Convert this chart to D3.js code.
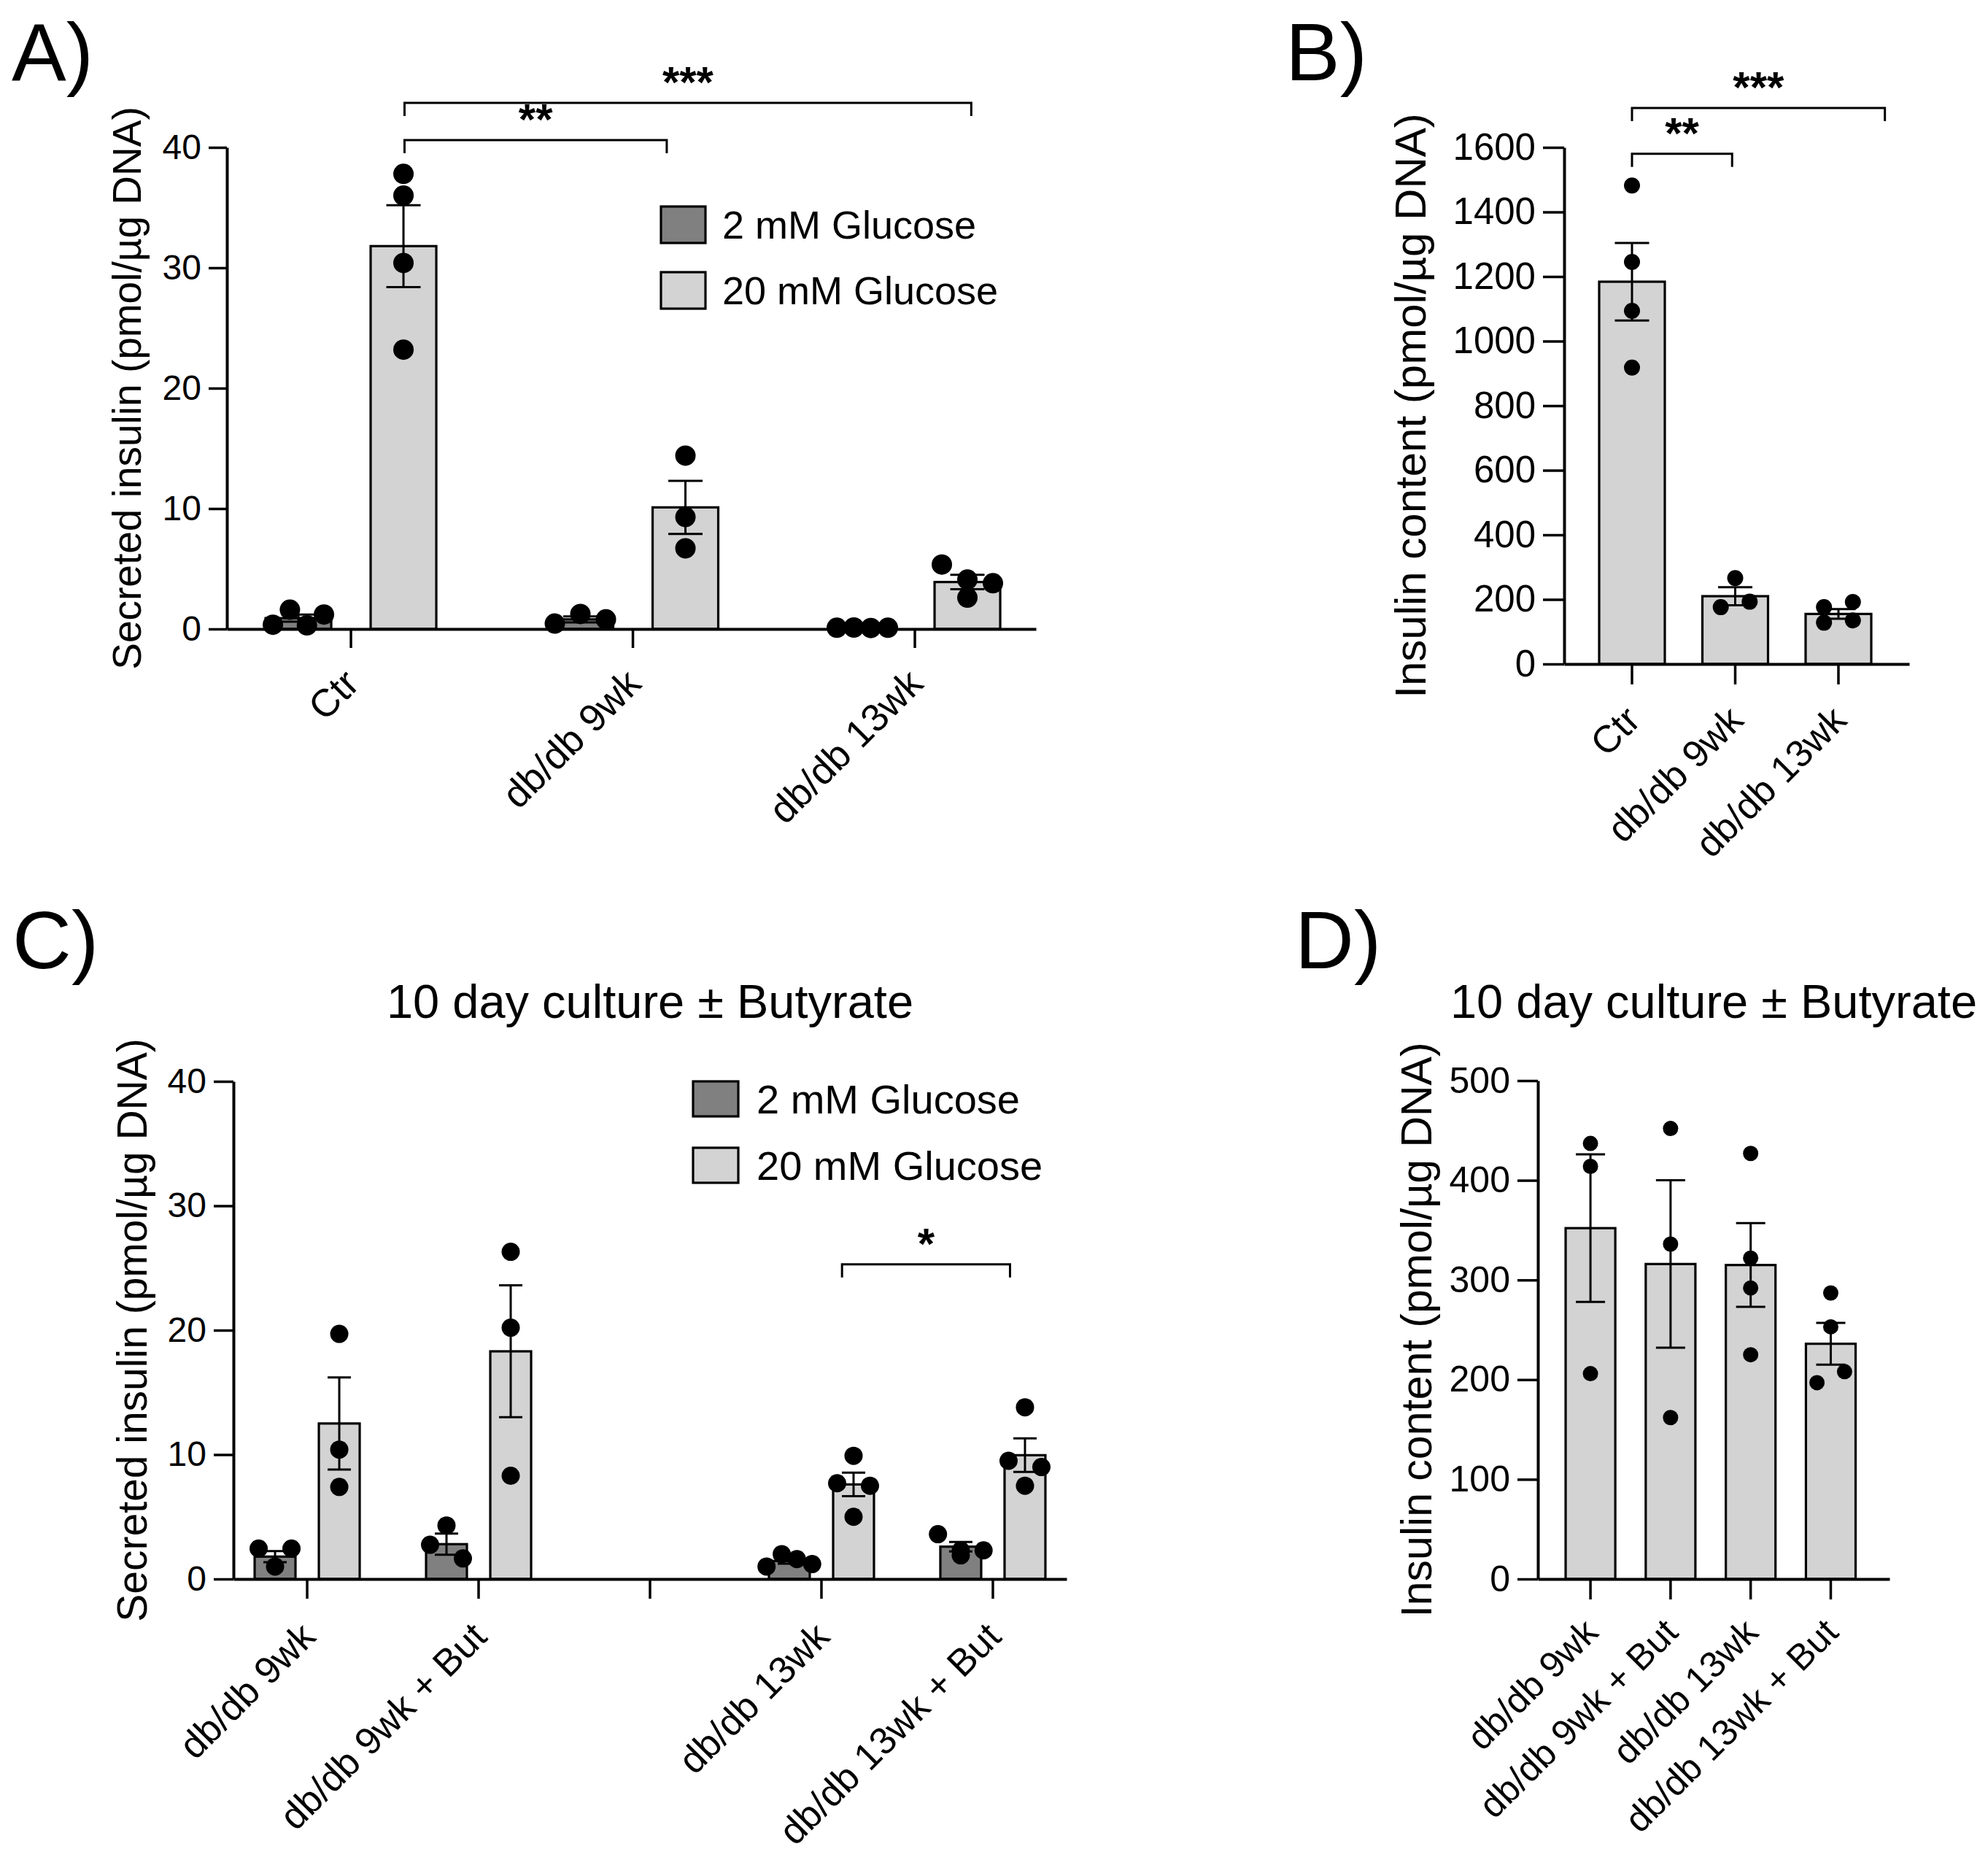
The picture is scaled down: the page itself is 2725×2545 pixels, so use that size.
<!DOCTYPE html>
<html><head><meta charset="utf-8">
<script src="https://cdn.jsdelivr.net/npm/d3@7"></script>
<style>
body{margin:0;background:#fff}
svg{display:block}
text{font-family:"Liberation Sans", Arial, Helvetica, sans-serif; fill:#000}
</style>
</head><body>
<svg id="fig" width="2725" height="2545"></svg>
<script>
// ---------------- DATA ----------------
const seriesNames = ["2 mM Glucose", "20 mM Glucose"];
const singleSeries = ["Insulin content"];

// Panel A: secreted insulin (pmol/µg DNA)
const groupsA = ["Ctr", "db/db 9wk", "db/db 13wk"];
const meanA_2mM = [0.9, 0.8, 0.1];
const semA_2mM = [0.3, 0.25, 0.03];
const ptsA_2mM = [[0.35, 1.6, 0.3, 1.2], [0.45, 1.25, 0.8], [0.1, 0.12, 0.08, 0.1]];
const meanA_20mM = [31.8, 10.1, 3.9];
const semA_20mM = [3.4, 2.2, 0.6];
const ptsA_20mM = [[37.8, 36.0, 30.4, 23.2], [14.4, 9.3, 6.7], [5.35, 2.6, 4.1, 3.8]];
const ticksA = [0, 10, 20, 30, 40];
const sigA = [
  {from: 0.19, to: 1.12, level: 40.6, label: "**"},
  {from: 0.19, to: 2.20, level: 43.7, label: "***"}
];

// Panel B: insulin content (pmol/µg DNA)
const groupsB = ["Ctr", "db/db 9wk", "db/db 13wk"];
const meanB = [1184, 210, 155];
const semB = [120, 28, 15];
const ptsB = [[1482, 1245, 1094, 918], [266, 176, 193], [128, 176, 192, 135]];
const ticksB = [0, 200, 400, 600, 800, 1000, 1200, 1400, 1600];
const sigB = [
  {from: 0, to: 0.97, level: 1580, label: "**"},
  {from: 0, to: 2.45, level: 1722, label: "***"}
];

// Panel C: secreted insulin after 10 day culture ± butyrate
const groupsC = ["db/db 9wk", "db/db 9wk + But", "", "db/db 13wk", "db/db 13wk + But"];
const meanC_2mM = [1.8, 2.8, null, 1.45, 2.6];
const semC_2mM = [0.45, 0.85, null, 0.22, 0.38];
const ptsC_2mM = [[1.0, 2.45, 2.45], [4.3, 2.75, 1.65], null, [1.0, 2.0, 1.6, 1.2], [3.6, 1.9, 2.3, 2.3]];
const meanC_20mM = [12.5, 18.3, null, 7.6, 9.95];
const semC_20mM = [3.7, 5.3, null, 0.95, 1.35];
const ptsC_20mM = [[19.7, 10.4, 7.4], [26.3, 20.2, 8.3], null, [9.9, 7.7, 7.5, 5.0], [13.8, 9.5, 9.0, 7.5]];
const ticksC = [0, 10, 20, 30, 40];
const sigC = [{from: 3.12, to: 4.10, level: 25.3, label: "*"}];

// Panel D: insulin content after 10 day culture ± butyrate
const groupsD = ["db/db 9wk", "db/db 9wk + But", "db/db 13wk", "db/db 13wk + But"];
const meanD = [352, 316, 315, 236];
const semD = [74, 84, 42, 21];
const ptsD = [[437, 414, 206], [452, 336, 162], [427, 322, 292, 225], [287, 253, 197, 208]];
const ticksD = [0, 100, 200, 300, 400, 500];

const titleCD = "10 day culture \u00B1 Butyrate";
const ylabSecreted = "Secreted insulin (pmol/\u00B5g DNA)";
const ylabContent = "Insulin content (pmol/\u00B5g DNA)";

// ---------------- DRAWING ----------------
const svg = d3.select("#fig");
svg.append("rect").attr("width", 2725).attr("height", 2545).attr("fill", "#fff");
const fills = ["#808080", "#d3d3d3"];
const FONT = "Liberation Sans, Arial, Helvetica, sans-serif";

function rowOffsets(vals, y, r) {
  const d = 2 * r;
  const idx = vals.map((v, i) => ({i, py: y(v)})).sort((a, b) => a.py - b.py);
  const rows = [];
  let cur = null;
  idx.forEach(p => {
    if (cur && p.py - cur[0].py < 0.95 * d) cur.push(p);
    else { cur = [p]; rows.push(cur); }
  });
  const off = new Array(vals.length).fill(0);
  rows.forEach(row => {
    const n = row.length;
    if (n < 2) return;
    const sp = Math.min(1.8 * d, 2.5 * d / (n - 1));
    row.sort((a, b) => a.i - b.i).forEach((p, k) => { off[p.i] = (k - (n - 1) / 2) * sp; });
  });
  return off;
}

function drawPanel(c) {
  const g = svg.append("g");
  const y = d3.scaleLinear().domain([0, c.yMax]).range([c.y0, c.yTop]);
  const x0 = d3.scaleBand().domain(c.groups).range([c.xLeft, c.xRight])
    .paddingInner(c.padIn).paddingOuter(c.padOut).align(c.align);
  const x1 = d3.scaleBand().domain(d3.range(c.series.length)).range([0, x0.bandwidth()])
    .paddingInner(c.padSeries || 0);
  const center = gname => x0(gname) + x0.bandwidth() / 2;
  const pos = f => center(c.groups[0]) + f * x0.step();

  // bars, error bars, points
  c.series.forEach((s, si) => {
    const means = c.means[si], sems = c.sems[si], pts = c.points[si];
    c.groups.forEach((gname, gi) => {
      if (means[gi] == null) return;
      const bx = x0(gname) + x1(si), bw = x1.bandwidth(), cx = bx + bw / 2;
      g.append("rect").attr("x", bx).attr("y", y(means[gi])).attr("width", bw)
        .attr("height", y(0) - y(means[gi]))
        .attr("fill", c.fills[si]).attr("stroke", "#000").attr("stroke-width", 3.2);
      const hi = y(means[gi] + sems[gi]), lo = y(means[gi] - sems[gi]);
      g.append("line").attr("x1", cx).attr("x2", cx).attr("y1", hi).attr("y2", lo)
        .attr("stroke", "#000").attr("stroke-width", 3);
      [hi, lo].forEach(yy => g.append("line").attr("x1", cx - c.capW / 2).attr("x2", cx + c.capW / 2)
        .attr("y1", yy).attr("y2", yy).attr("stroke", "#000").attr("stroke-width", 3));
      const offs = rowOffsets(pts[gi], y, c.r);
      g.selectAll(null).data(pts[gi]).enter().append("circle")
        .attr("cx", (v, k) => cx + offs[k]).attr("cy", v => y(v)).attr("r", c.r).attr("fill", "#000");
    });
  });

  // y axis
  const ya = g.append("g").attr("transform", `translate(${c.xLeft},0)`)
    .call(d3.axisLeft(y).tickValues(c.ticks).tickFormat(d3.format("d"))
      .tickSize(c.yTick).tickSizeOuter(0).tickPadding(10));
  ya.attr("font-family", FONT);
  ya.select(".domain").attr("stroke-width", 4);
  ya.selectAll(".tick line").attr("stroke-width", 3.5);
  ya.selectAll(".tick text").attr("font-size", c.tickFs).attr("font-family", FONT);

  // x axis
  const xa = g.append("g").attr("transform", `translate(0,${c.y0})`)
    .call(d3.axisBottom(x0).tickSize(c.xTick).tickSizeOuter(0).tickFormat(""));
  xa.select(".domain").attr("stroke-width", 4);
  xa.selectAll(".tick line").attr("stroke-width", 3.5);
  c.groups.forEach(gname => {
    if (!gname) return;
    g.append("text").attr("transform", `translate(${center(gname) + c.labDx},${c.y0 + c.labDy}) rotate(-45)`)
      .attr("text-anchor", "end").attr("font-size", c.xFs).text(gname);
  });

  // y label
  g.append("text").attr("transform", `translate(${c.ylabX},${(c.y0 + c.yTop) / 2}) rotate(-90)`)
    .attr("text-anchor", "middle").attr("font-size", c.ylabFs).text(c.ylab);

  // significance brackets
  (c.sig || []).forEach(s => {
    const x1p = pos(s.from), x2p = pos(s.to), yy = y(s.level);
    g.append("path").attr("d", `M${x1p},${yy + 18}V${yy}H${x2p}V${yy + 18}`)
      .attr("fill", "none").attr("stroke", "#000").attr("stroke-width", 3);
    g.append("text").attr("x", (x1p + x2p) / 2).attr("y", yy - 8).attr("text-anchor", "middle")
      .attr("font-size", 60).attr("font-weight", "bold").text(s.label);
  });

  // legend
  if (c.legend) {
    const L = c.legend;
    c.series.forEach((s, si) => {
      const yy = L.y + si * L.gap;
      g.append("rect").attr("x", L.x).attr("y", yy).attr("width", L.w).attr("height", L.h)
        .attr("fill", c.fills[si]).attr("stroke", "#000").attr("stroke-width", 3.2);
      g.append("text").attr("x", L.textX).attr("y", yy + L.h / 2 + 0.35 * L.fs)
        .attr("font-size", L.fs).text(s);
    });
  }

  // title
  if (c.title) {
    g.append("text").attr("x", (c.xLeft + c.xRight) / 2).attr("y", c.titleY)
      .attr("text-anchor", "middle").attr("font-size", 65).text(c.title);
  }

  // panel letter
  g.append("text").attr("x", c.letterX).attr("y", c.letterY).attr("font-size", 112).text(c.letter);
}

drawPanel({
  letter: "A)", letterX: 16, letterY: 110,
  groups: groupsA, series: seriesNames, fills: fills,
  means: [meanA_2mM, meanA_20mM], sems: [semA_2mM, semA_20mM], points: [ptsA_2mM, ptsA_20mM],
  yMax: 40, ticks: ticksA, y0: 862, yTop: 202, xLeft: 311, xRight: 1420,
  padIn: 0.3946, padOut: 0.132, align: 0.52, padSeries: 0.375,
  r: 14, capW: 47, yTick: 25, xTick: 26, tickFs: 48, xFs: 53, labDx: 14, labDy: 78,
  ylab: ylabSecreted, ylabX: 193, ylabFs: 55, sig: sigA,
  legend: {x: 906, y: 283, w: 61, h: 50, gap: 90, textX: 990, fs: 54}
});

drawPanel({
  letter: "B)", letterX: 1762, letterY: 110,
  groups: groupsB, series: singleSeries, fills: ["#d3d3d3"],
  means: [meanB], sems: [semB], points: [ptsB],
  yMax: 1600, ticks: ticksB, y0: 910, yTop: 202, xLeft: 2144, xRight: 2617,
  padIn: 0.364, padOut: 0.3535, align: 0.48,
  r: 11, capW: 47, yTick: 29, xTick: 28, tickFs: 51, xFs: 52, labDx: 14, labDy: 80,
  ylab: ylabContent, ylabX: 1954, ylabFs: 60, sig: sigB
});

drawPanel({
  letter: "C)", letterX: 17, letterY: 1327,
  groups: groupsC, series: seriesNames, fills: fills,
  means: [meanC_2mM, meanC_20mM], sems: [semC_2mM, semC_20mM], points: [ptsC_2mM, ptsC_20mM],
  yMax: 40, ticks: ticksC, y0: 2164, yTop: 1482, xLeft: 320, xRight: 1462,
  padIn: 0.3872, padOut: 0.1236, align: 0.5, padSeries: 0.364,
  r: 12.5, capW: 32, yTick: 27, xTick: 27, tickFs: 48, xFs: 52, labDx: 14, labDy: 82,
  ylab: ylabSecreted, ylabX: 201, ylabFs: 57, sig: sigC,
  legend: {x: 950, y: 1482, w: 62, h: 48, gap: 91, textX: 1037, fs: 56},
  title: titleCD, titleY: 1395
});

drawPanel({
  letter: "D)", letterX: 1775, letterY: 1327,
  groups: groupsD, series: singleSeries, fills: ["#d3d3d3"],
  means: [meanD], sems: [semD], points: [ptsD],
  yMax: 500, ticks: ticksD, y0: 2164, yTop: 1481, xLeft: 2108, xRight: 2590,
  padIn: 0.38, padOut: 0.385, align: 0.45,
  r: 10.5, capW: 40, yTick: 28, xTick: 28, tickFs: 50, xFs: 50, labDx: 13, labDy: 76,
  ylab: ylabContent, ylabX: 1962, ylabFs: 59,
  title: titleCD, titleY: 1395
});
</script>
</body></html>
